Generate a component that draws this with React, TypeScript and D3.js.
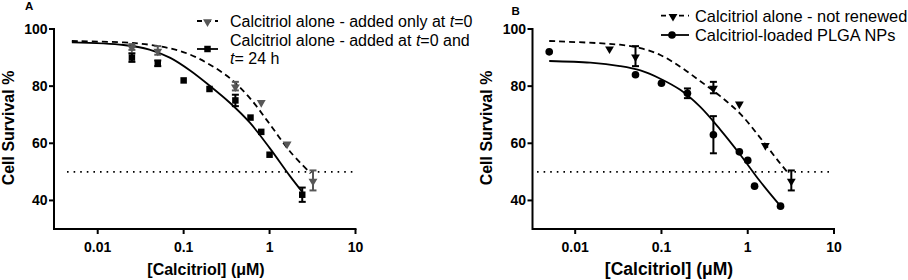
import React from 'react';
import * as d3 from 'd3';

// ---------- shared axis data ----------
const xTickValues = [0.01, 0.1, 1, 10];
const xTickLabels = ['0.01', '0.1', '1', '10'];
const yTickValues = [40, 60, 80, 100];
const yTickLabels = ['40', '60', '80', '100'];
const yDomain = [30, 100];
const cutoffLevel = 50;
const xAxisTitle = '[Calcitriol] (\u03bcM)';
const yAxisTitle = 'Cell Survival %';

// ---------- Panel A ----------
const concA_tri = [0.025, 0.05, 0.4, 0.8, 1.6, 3.2];
const survA_tri = [93.7, 92.5, 80, 74.5, 60, 47];
const errA_tri = [1, 1.5, 1.5, 0, 0, 3.5];

const concA_sq = [0.025, 0.05, 0.1, 0.2, 0.4, 0.6, 0.8, 1, 2.4];
const survA_sq = [90, 88, 82, 79, 75, 69, 64, 56, 42];
const errA_sq = [1.5, 1, 0, 0, 2, 0, 0, 0, 2.5];

const fitA_dash_x = [0.005, 0.02, 0.04, 0.07, 0.12, 0.2, 0.345, 0.59, 1.0, 1.72, 3.0];
const fitA_dash_y = [95.8, 95.3, 94.5, 93.2, 91, 87.6, 82.8, 75.8, 66.8, 57.2, 49.5];
const fitA_solid_x = [0.005, 0.02, 0.04, 0.07, 0.12, 0.2, 0.345, 0.59, 1.0, 1.72, 2.4];
const fitA_solid_y = [95.3, 94.4, 92.8, 89.9, 85.4, 80.2, 74.2, 67.2, 58.4, 48.6, 43];

const legendA_1 = ['Calcitriol alone - added only at ', 't', '=0'];
const legendA_2a = ['Calcitriol alone - added at ', 't', '=0 and'];
const legendA_2b = ['t', '= 24 h'];

// ---------- Panel B ----------
const concB_tri = [0.025, 0.05, 0.4, 0.8, 1.6, 3.2];
const survB_tri = [93.3, 90.5, 79.5, 74, 59.5, 47];
const errB_tri = [0, 3.5, 2, 0, 0, 3.5];

const concB_c = [0.005, 0.05, 0.1, 0.2, 0.4, 0.8, 1, 1.2, 2.4];
const survB_c = [92, 84, 81, 77.5, 63, 57, 54, 45, 38];
const errB_c = [0, 0, 0, 1.7, 6.5, 0, 0, 0, 0];

const fitB_dash_x = [0.005, 0.033, 0.057, 0.097, 0.165, 0.28, 0.48, 0.82, 1.39, 2.37, 3.0];
const fitB_dash_y = [95.8, 94.5, 93.3, 90.9, 86.8, 81.8, 76.5, 70.3, 62, 53, 49.3];
const fitB_solid_x = [0.005, 0.015, 0.033, 0.057, 0.097, 0.165, 0.28, 0.48, 0.82, 1.39, 2.4];
const fitB_solid_y = [88.8, 88.2, 87, 85.5, 82.6, 78.7, 72.8, 64.8, 56, 46.7, 38];

const legendB_1 = 'Calcitriol alone - not renewed';
const legendB_2 = 'Calcitriol-loaded PLGA NPs';

const FONT = '"Liberation Sans", Arial, Helvetica, sans-serif';

type Series = { x: number[]; y: number[]; err: number[]; shape: 'tri' | 'sq' | 'circle'; color: string };
type Fit = { x: number[]; y: number[]; dashed: boolean };

function marker(shape: string) {
  if (shape === 'tri') return d3.symbol().type(d3.symbolTriangle).size(34)();
  if (shape === 'sq') return d3.symbol().type(d3.symbolSquare).size(42)();
  return d3.symbol().type(d3.symbolCircle).size(46)();
}

function Marker({ shape, cx, cy, color }: { shape: string; cx: number; cy: number; color: string }) {
  const rot = shape === 'tri' ? ' rotate(180)' : '';
  const dy = shape === 'tri' ? 0.8 : 0;
  return <path d={marker(shape) as string} transform={`translate(${cx},${cy + dy})${rot}`} fill={color} />;
}

function Panel(props: {
  xRange: [number, number];
  xMin: number;
  label: string;
  labelPos: [number, number];
  yLabelX: number;
  xLabelX: number;
  xLabelSize: number;
  dotStart: number;
  fits: Fit[];
  series: Series[];
  legend: React.ReactNode;
}) {
  const x = d3.scaleLog().domain([props.xMin, 10]).range(props.xRange);
  const y = d3.scaleLinear().domain(yDomain).range([229, 29]);
  const x0 = props.xRange[0];
  const line = d3
    .line<[number, number]>()
    .x((d) => x(d[0]))
    .y((d) => y(d[1]))
    .curve(d3.curveCatmullRom.alpha(0.5));
  return (
    <g>
      <text x={props.labelPos[0]} y={props.labelPos[1]} fontFamily={FONT} fontWeight="bold" fontSize={11.5}>
        {props.label}
      </text>
      <line
        x1={props.dotStart}
        x2={x(10)}
        y1={y(cutoffLevel)}
        y2={y(cutoffLevel)}
        stroke="#000"
        strokeWidth={1.6}
        strokeDasharray="1.6,5"
      />
      {props.fits.map((f, i) => (
        <path
          key={i}
          d={line(f.x.map((v, j) => [v, f.y[j]] as [number, number])) as string}
          fill="none"
          stroke="#000"
          strokeWidth={1.8}
          strokeDasharray={f.dashed ? '6,4' : undefined}
        />
      ))}
      {props.series.map((s, si) => (
        <g key={si}>
          {s.x.map((c, j) =>
            s.err[j] > 0 ? (
              <g key={j} stroke={s.color} strokeWidth={2}>
                <line x1={x(c)} x2={x(c)} y1={y(s.y[j] + s.err[j])} y2={y(s.y[j] - s.err[j])} />
                <line x1={x(c) - 3.5} x2={x(c) + 3.5} y1={y(s.y[j] + s.err[j])} y2={y(s.y[j] + s.err[j])} />
                <line x1={x(c) - 3.5} x2={x(c) + 3.5} y1={y(s.y[j] - s.err[j])} y2={y(s.y[j] - s.err[j])} />
              </g>
            ) : null
          )}
          {s.x.map((c, j) => (
            <Marker key={'m' + j} shape={s.shape} cx={x(c)} cy={y(s.y[j])} color={s.color} />
          ))}
        </g>
      ))}
      <g stroke="#000" strokeWidth={2} fill="none">
        <line x1={x0} x2={x(10) + 1} y1={229} y2={229} />
        <line x1={x0} x2={x0} y1={y(100) - 1} y2={230} />
        {xTickValues.map((t) => (
          <line key={t} x1={x(t)} x2={x(t)} y1={229} y2={234} />
        ))}
        {yTickValues.map((t) => (
          <line key={t} x1={x0 - 5} x2={x0} y1={y(t)} y2={y(t)} />
        ))}
      </g>
      {xTickValues.map((t, i) => (
        <text key={t} x={x(t)} y={252} textAnchor="middle" fontFamily={FONT} fontWeight="bold" fontSize={14}>
          {xTickLabels[i]}
        </text>
      ))}
      {yTickValues.map((t, i) => (
        <text key={t} x={x0 - 6.5} y={y(t) + 5} textAnchor="end" fontFamily={FONT} fontWeight="bold" fontSize={14}>
          {yTickLabels[i]}
        </text>
      ))}
      <text
        transform={`translate(${props.yLabelX},128) rotate(-90)`}
        textAnchor="middle"
        fontFamily={FONT}
        fontWeight="bold"
        fontSize={16}
      >
        {yAxisTitle}
      </text>
      <text x={props.xLabelX} y={275} textAnchor="middle" fontFamily={FONT} fontWeight="bold" fontSize={props.xLabelSize}>
        {xAxisTitle}
      </text>
      {props.legend}
    </g>
  );
}

function LegendKey({ x1, x2, y, dashed, shape, color, mx }: any) {
  return (
    <g>
      <line x1={x1} x2={x2} y1={y} y2={y} stroke="#000" strokeWidth={1.8} strokeDasharray={dashed ? '5,4' : undefined} />
      <Marker shape={shape} cx={mx} cy={y} color={color} />
    </g>
  );
}

export default function App() {
  const grey = '#575757';
  const legendA = (
    <g fontFamily={FONT} fontSize={16}>
      <LegendKey x1={197} x2={218} y={21} dashed shape="tri" color={grey} mx={207.5} />
      <text x={230} y={26.5}>
        {legendA_1[0]}
        <tspan fontStyle="italic">{legendA_1[1]}</tspan>
        {legendA_1[2]}
      </text>
      <LegendKey x1={197} x2={218} y={49} dashed={false} shape="sq" color="#000" mx={207.5} />
      <text x={230} y={45.5}>
        {legendA_2a[0]}
        <tspan fontStyle="italic">{legendA_2a[1]}</tspan>
        {legendA_2a[2]}
      </text>
      <text x={230} y={64}>
        <tspan fontStyle="italic">{legendA_2b[0]}</tspan>
        {legendA_2b[1]}
      </text>
    </g>
  );
  const legendB = (
    <g fontFamily={FONT} fontSize={16.4}>
      <LegendKey x1={661} x2={689} y={15.7} dashed shape="tri" color="#000" mx={673} />
      <text x={695} y={21.5}>{legendB_1}</text>
      <LegendKey x1={661} x2={689} y={35} dashed={false} shape="circle" color="#000" mx={672} />
      <text x={695} y={40.5}>{legendB_2}</text>
    </g>
  );
  return (
    <svg width={908} height={280} style={{ position: 'absolute', left: 0, top: 0, background: '#fff' }}>
      <rect width={908} height={280} fill="#fff" />
      <Panel
        xRange={[54, 355.5]}
        xMin={0.0031}
        label="A"
        labelPos={[25, 10]}
        yLabelX={13.5}
        xLabelX={206}
        xLabelSize={16}
        dotStart={67}
        fits={[
          { x: fitA_dash_x, y: fitA_dash_y, dashed: true },
          { x: fitA_solid_x, y: fitA_solid_y, dashed: false },
        ]}
        series={[
          { x: concA_tri, y: survA_tri, err: errA_tri, shape: 'tri', color: grey },
          { x: concA_sq, y: survA_sq, err: errA_sq, shape: 'sq', color: '#000' },
        ]}
        legend={legendA}
      />
      <Panel
        xRange={[532.5, 834]}
        xMin={0.0032}
        label="B"
        labelPos={[511.5, 15]}
        yLabelX={491.5}
        xLabelX={669}
        xLabelSize={17.5}
        dotStart={537}
        fits={[
          { x: fitB_dash_x, y: fitB_dash_y, dashed: true },
          { x: fitB_solid_x, y: fitB_solid_y, dashed: false },
        ]}
        series={[
          { x: concB_tri, y: survB_tri, err: errB_tri, shape: 'tri', color: '#000' },
          { x: concB_c, y: survB_c, err: errB_c, shape: 'circle', color: '#000' },
        ]}
        legend={legendB}
      />
    </svg>
  );
}
